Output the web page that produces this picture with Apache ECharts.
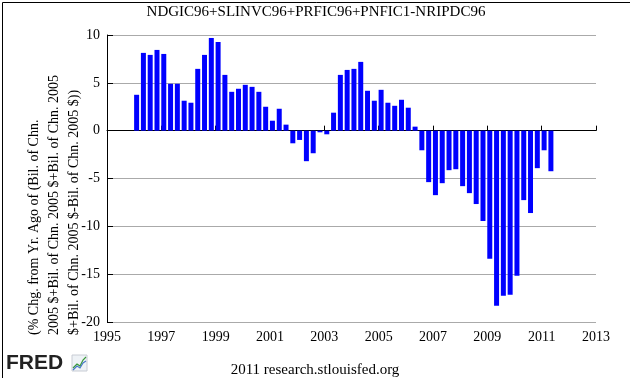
<!DOCTYPE html>
<html>
<head>
<meta charset="utf-8">
<script src="https://cdn.jsdelivr.net/npm/echarts@6/dist/echarts.min.js"></script>
<style>
html, body { margin: 0; padding: 0; background: #fff; }
#chart { width: 630px; height: 378px; }
</style>
</head>
<body>
<div id="chart"></div>
<script>
// quarterly, 1996Q1 .. 2011Q2
var startYear = 1996;
var values = [
	3.75, 8.13, 7.92, 8.44,
	8.02, 4.9, 4.9, 3.13,
	2.92, 6.46, 7.92, 9.69,
	9.27, 5.83, 4.06, 4.38,
	4.79, 4.58, 4.06, 2.5,
	1.04, 2.29, 0.63, -1.32,
	-0.97, -3.19, -2.36, -0.17,
	-0.38, 1.88, 5.83, 6.35,
	6.46, 7.19, 4.17, 3.13,
	4.27, 2.92, 2.6, 3.23,
	2.4, 0.42, -2.05, -5.38,
	-6.74, -5.49, -4.13, -4.03,
	-5.8, -6.53, -7.67, -9.44,
	-13.4, -18.3, -17.26, -17.15,
	-15.17, -7.26, -8.61, -3.92,
	-2.05, -4.24
];
var yearTicks = [1995, 1997, 1999, 2001, 2003, 2005, 2007, 2009, 2011, 2013];
var titleText = 'NDGIC96+SLINVC96+PRFIC96+PNFIC1-NRIPDC96';
var yNameLines = [
	'(% Chg. from Yr. Ago of (Bil. of Chn.',
	'2005 $+Bil. of Chn. 2005 $+Bil. of Chn. 2005',
	'$+Bil. of Chn. 2005 $-Bil. of Chn. 2005 $))'
];

var serif = '"Liberation Serif", "DejaVu Serif", serif';

var seriesData = [];
for (var i = 0; i < values.length; i++) {
	// bar drawn starting at the quarter date
	seriesData.push([startYear + i / 4 + 0.09, values[i]]);
}

var myChart = echarts.init(document.getElementById('chart'));
var option = {
	animation: false,
	backgroundColor: '#fff',
	grid: { left: 107, top: 35, right: 34, bottom: 56 },
	xAxis: {
		type: 'value',
		min: 1995,
		max: 2013,
		interval: 2,
		axisLine: { lineStyle: { color: '#000', width: 1 } },
		axisTick: { inside: true, length: 5, lineStyle: { color: '#000' } },
		axisLabel: {
			color: '#000', fontFamily: serif, fontSize: 14, margin: 8,
			formatter: function (v) { return yearTicks.indexOf(v) >= 0 ? String(v) : ''; }
		},
		splitLine: { show: false }
	},
	yAxis: {
		type: 'value',
		min: -20,
		max: 10,
		interval: 5,
		axisLine: { show: true, lineStyle: { color: '#000', width: 1 } },
		axisTick: { show: true, inside: true, length: 6, lineStyle: { color: '#000' } },
		axisLabel: { color: '#000', fontFamily: serif, fontSize: 14, margin: 7 },
		splitLine: { lineStyle: { color: '#aaaaaa', width: 1 } }
	},
	series: [{
		type: 'bar',
		data: seriesData,
		barWidth: 5,
		itemStyle: { color: '#0000ff' }
	}],
	graphic: [
		{
			type: 'rect', left: 0, top: 0, silent: true,
			shape: { x: 0.5, y: 0.5, width: 629, height: 377 },
			style: { fill: 'none', stroke: '#000', lineWidth: 1 }
		},
		{
			type: 'text', x: 316, y: 12,
			style: { text: titleText, fill: '#000', font: '15px ' + serif, textAlign: 'center', textVerticalAlign: 'middle' }
		},
		{
			type: 'text', x: 34, y: 335, rotation: Math.PI / 2,
			style: { text: yNameLines[0], fill: '#000', font: '14px ' + serif, textAlign: 'left', textVerticalAlign: 'middle' }
		},
		{
			type: 'text', x: 54, y: 335, rotation: Math.PI / 2,
			style: { text: yNameLines[1], fill: '#000', font: '14px ' + serif, textAlign: 'left', textVerticalAlign: 'middle' }
		},
		{
			type: 'text', x: 74, y: 335, rotation: Math.PI / 2,
			style: { text: yNameLines[2], fill: '#000', font: '14px ' + serif, textAlign: 'left', textVerticalAlign: 'middle' }
		},
		{
			type: 'text', x: 315, y: 370,
			style: { text: '2011 research.stlouisfed.org', fill: '#000', font: '15px ' + serif, textAlign: 'center', textVerticalAlign: 'middle' }
		},
		{
			type: 'text', x: 6, y: 363,
			style: { text: 'FRED', fill: '#222', font: 'bold 21px "Liberation Sans", Arial, sans-serif', textAlign: 'left', textVerticalAlign: 'middle' }
		},
		{
			type: 'rect', silent: true,
			shape: { x: 72, y: 355, width: 15, height: 16 },
			style: { fill: '#eef2f6', stroke: '#c8ccd4', lineWidth: 1 }
		},
		{
			type: 'polyline', silent: true,
			shape: { points: [[73, 368], [77, 364], [80, 366], [83, 360], [86, 357]] },
			style: { stroke: '#3a9a3a', fill: 'none', lineWidth: 1.2 }
		},
		{
			type: 'polyline', silent: true,
			shape: { points: [[73, 370], [77, 366], [80, 368], [83, 363], [86, 361]] },
			style: { stroke: '#4a7ac8', fill: 'none', lineWidth: 1.2 }
		}
	]
};
myChart.setOption(option);
</script>
</body>
</html>
